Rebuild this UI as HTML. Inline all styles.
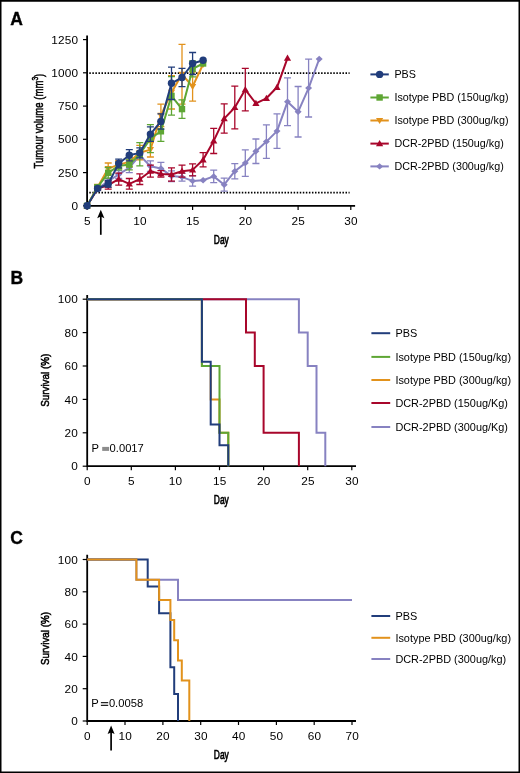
<!DOCTYPE html>
<html><head><meta charset="utf-8"><style>
html,body{margin:0;padding:0;background:#fff;}
body{width:520px;height:773px;overflow:hidden;position:relative;}
svg{position:absolute;left:0;top:0;will-change:transform;}
</style></head><body>
<svg width="520" height="773" viewBox="0 0 520 773"><text x="10.2" y="24.5" font-family="Liberation Sans, sans-serif" font-weight="bold" font-size="17.5" stroke="#000" stroke-width="0.35">A</text><path d="M87.1,35.4V205.8H355.1" stroke="#000" stroke-width="1.8" fill="none"/><path d="M83,205.8H87.1" stroke="#000" stroke-width="1.2"/><text x="78.2" y="209.9" font-family="Liberation Sans, sans-serif" font-size="11.8" letter-spacing="0.2" text-anchor="end">0</text><path d="M83,172.6H87.1" stroke="#000" stroke-width="1.2"/><text x="78.2" y="176.7" font-family="Liberation Sans, sans-serif" font-size="11.8" letter-spacing="0.2" text-anchor="end">250</text><path d="M83,139.3H87.1" stroke="#000" stroke-width="1.2"/><text x="78.2" y="143.4" font-family="Liberation Sans, sans-serif" font-size="11.8" letter-spacing="0.2" text-anchor="end">500</text><path d="M83,106.1H87.1" stroke="#000" stroke-width="1.2"/><text x="78.2" y="110.2" font-family="Liberation Sans, sans-serif" font-size="11.8" letter-spacing="0.2" text-anchor="end">750</text><path d="M83,72.8H87.1" stroke="#000" stroke-width="1.2"/><text x="78.2" y="76.9" font-family="Liberation Sans, sans-serif" font-size="11.8" letter-spacing="0.2" text-anchor="end">1000</text><path d="M83,39.6H87.1" stroke="#000" stroke-width="1.2"/><text x="78.2" y="43.7" font-family="Liberation Sans, sans-serif" font-size="11.8" letter-spacing="0.2" text-anchor="end">1250</text><path d="M87.1,205.8V210" stroke="#000" stroke-width="1.2"/><text x="87.3" y="224.5" font-family="Liberation Sans, sans-serif" font-size="11.8" letter-spacing="0.2" text-anchor="middle">5</text><path d="M139.8,205.8V210" stroke="#000" stroke-width="1.2"/><text x="140.0" y="224.5" font-family="Liberation Sans, sans-serif" font-size="11.8" letter-spacing="0.2" text-anchor="middle">10</text><path d="M192.6,205.8V210" stroke="#000" stroke-width="1.2"/><text x="192.8" y="224.5" font-family="Liberation Sans, sans-serif" font-size="11.8" letter-spacing="0.2" text-anchor="middle">15</text><path d="M245.3,205.8V210" stroke="#000" stroke-width="1.2"/><text x="245.5" y="224.5" font-family="Liberation Sans, sans-serif" font-size="11.8" letter-spacing="0.2" text-anchor="middle">20</text><path d="M298.1,205.8V210" stroke="#000" stroke-width="1.2"/><text x="298.3" y="224.5" font-family="Liberation Sans, sans-serif" font-size="11.8" letter-spacing="0.2" text-anchor="middle">25</text><path d="M350.8,205.8V210" stroke="#000" stroke-width="1.2"/><text x="351.0" y="224.5" font-family="Liberation Sans, sans-serif" font-size="11.8" letter-spacing="0.2" text-anchor="middle">30</text><path d="M89.3,73.1H349.6" stroke="#000" stroke-width="1.7" stroke-dasharray="1.5 1.55"/><path d="M89.3,192.6H349.6" stroke="#000" stroke-width="1.7" stroke-dasharray="1.5 1.55"/><path d="M100.8,234.8V215" stroke="#000" stroke-width="1.7"/><path d="M100.8,209.8L104.4,218.2L100.8,216.6L97.2,218.2Z" fill="#000"/><text transform="translate(42.6,168.5) rotate(-90) scale(0.704,1)" font-family="Liberation Sans, sans-serif" font-size="13.6" stroke="#000" stroke-width="0.55">Tumour volume (mm<tspan font-size="9.5" dy="-4.6">3</tspan><tspan dy="4.6">)</tspan></text><text transform="translate(213.8,244) scale(0.62,1)" font-family="Liberation Sans, sans-serif" font-size="13.6" stroke="#000" stroke-width="0.7">Day</text><g><path d="M97.6,187.2V189.8M94.1,187.2H101.1M94.1,189.8H101.1" stroke="#8782c1" stroke-width="1.3" fill="none"/><path d="M108.2,178.5V183.9M104.7,178.5H111.7M104.7,183.9H111.7" stroke="#8782c1" stroke-width="1.3" fill="none"/><path d="M118.7,170.6V178.5M115.2,170.6H122.2M115.2,178.5H122.2" stroke="#8782c1" stroke-width="1.3" fill="none"/><path d="M129.3,162.6V172.7M125.8,162.6H132.8M125.8,172.7H132.8" stroke="#8782c1" stroke-width="1.3" fill="none"/><path d="M139.8,151.4V159.4M136.3,151.4H143.3M136.3,159.4H143.3" stroke="#8782c1" stroke-width="1.3" fill="none"/><path d="M150.4,160.8V171.5M146.9,160.8H153.9M146.9,171.5H153.9" stroke="#8782c1" stroke-width="1.3" fill="none"/><path d="M160.9,162.4V174.4M157.4,162.4H164.4M157.4,174.4H164.4" stroke="#8782c1" stroke-width="1.3" fill="none"/><path d="M171.5,170.8V181.5M168.0,170.8H175.0M168.0,181.5H175.0" stroke="#8782c1" stroke-width="1.3" fill="none"/><path d="M182.0,173.1V181.1M178.5,173.1H185.5M178.5,181.1H185.5" stroke="#8782c1" stroke-width="1.3" fill="none"/><path d="M192.6,175.7V186.1M189.1,175.7H196.1M189.1,186.1H196.1" stroke="#8782c1" stroke-width="1.3" fill="none"/><path d="M213.7,170.2V182.7M210.2,170.2H217.2M210.2,182.7H217.2" stroke="#8782c1" stroke-width="1.3" fill="none"/><path d="M224.2,178.1V191.2M220.7,178.1H227.7M220.7,191.2H227.7" stroke="#8782c1" stroke-width="1.3" fill="none"/><path d="M234.8,163.6V178.8M231.3,163.6H238.3M231.3,178.8H238.3" stroke="#8782c1" stroke-width="1.3" fill="none"/><path d="M245.3,149.8V176.4M241.8,149.8H248.8M241.8,176.4H248.8" stroke="#8782c1" stroke-width="1.3" fill="none"/><path d="M255.9,139.0V163.5M252.4,139.0H259.4M252.4,163.5H259.4" stroke="#8782c1" stroke-width="1.3" fill="none"/><path d="M266.4,124.8V158.3M262.9,124.8H269.9M262.9,158.3H269.9" stroke="#8782c1" stroke-width="1.3" fill="none"/><path d="M277.0,113.8V148.3M273.5,113.8H280.5M273.5,148.3H280.5" stroke="#8782c1" stroke-width="1.3" fill="none"/><path d="M287.5,77.9V125.7M284.0,77.9H291.0M284.0,125.7H291.0" stroke="#8782c1" stroke-width="1.3" fill="none"/><path d="M298.1,86.5V137.0M294.6,86.5H301.6M294.6,137.0H301.6" stroke="#8782c1" stroke-width="1.3" fill="none"/><path d="M308.6,59.2V117.0M305.1,59.2H312.1M305.1,117.0H312.1" stroke="#8782c1" stroke-width="1.3" fill="none"/><polyline points="87.1,205.8 97.6,188.5 108.2,181.2 118.7,174.5 129.3,167.6 139.8,155.4 150.4,166.2 160.9,168.4 171.5,176.1 182.0,177.1 192.6,180.9 203.1,180.3 213.7,176.4 224.2,184.7 234.8,171.2 245.3,163.1 255.9,151.3 266.4,141.6 277.0,131.1 287.5,101.8 298.1,111.8 308.6,88.1 319.2,59.0" stroke="#8782c1" stroke-width="2" fill="none" stroke-linejoin="round"/><path d="M87.1,202.6L90.6,205.8L87.1,209.0L83.6,205.8Z" fill="#8782c1"/><path d="M97.6,185.3L101.1,188.5L97.6,191.7L94.1,188.5Z" fill="#8782c1"/><path d="M108.2,178.0L111.7,181.2L108.2,184.4L104.7,181.2Z" fill="#8782c1"/><path d="M118.7,171.3L122.2,174.5L118.7,177.7L115.2,174.5Z" fill="#8782c1"/><path d="M129.3,164.4L132.8,167.6L129.3,170.8L125.8,167.6Z" fill="#8782c1"/><path d="M139.8,152.2L143.3,155.4L139.8,158.6L136.3,155.4Z" fill="#8782c1"/><path d="M150.4,163.0L153.9,166.2L150.4,169.4L146.9,166.2Z" fill="#8782c1"/><path d="M160.9,165.2L164.4,168.4L160.9,171.6L157.4,168.4Z" fill="#8782c1"/><path d="M171.5,172.9L175.0,176.1L171.5,179.3L168.0,176.1Z" fill="#8782c1"/><path d="M182.0,173.9L185.5,177.1L182.0,180.3L178.5,177.1Z" fill="#8782c1"/><path d="M192.6,177.7L196.1,180.9L192.6,184.1L189.1,180.9Z" fill="#8782c1"/><path d="M203.1,177.1L206.6,180.3L203.1,183.5L199.6,180.3Z" fill="#8782c1"/><path d="M213.7,173.2L217.2,176.4L213.7,179.6L210.2,176.4Z" fill="#8782c1"/><path d="M224.2,181.5L227.7,184.7L224.2,187.9L220.7,184.7Z" fill="#8782c1"/><path d="M234.8,168.0L238.3,171.2L234.8,174.4L231.3,171.2Z" fill="#8782c1"/><path d="M245.3,159.9L248.8,163.1L245.3,166.3L241.8,163.1Z" fill="#8782c1"/><path d="M255.9,148.1L259.4,151.3L255.9,154.5L252.4,151.3Z" fill="#8782c1"/><path d="M266.4,138.4L269.9,141.6L266.4,144.8L262.9,141.6Z" fill="#8782c1"/><path d="M277.0,127.9L280.5,131.1L277.0,134.3L273.5,131.1Z" fill="#8782c1"/><path d="M287.5,98.6L291.0,101.8L287.5,105.0L284.0,101.8Z" fill="#8782c1"/><path d="M298.1,108.6L301.6,111.8L298.1,115.0L294.6,111.8Z" fill="#8782c1"/><path d="M308.6,84.9L312.1,88.1L308.6,91.3L305.1,88.1Z" fill="#8782c1"/><path d="M319.2,55.8L322.7,59.0L319.2,62.2L315.7,59.0Z" fill="#8782c1"/><path d="M97.6,187.2V189.8M94.1,187.2H101.1M94.1,189.8H101.1" stroke="#a8062b" stroke-width="1.3" fill="none"/><path d="M108.2,181.2V189.2M104.7,181.2H111.7M104.7,189.2H111.7" stroke="#a8062b" stroke-width="1.3" fill="none"/><path d="M118.7,173.2V185.2M115.2,173.2H122.2M115.2,185.2H122.2" stroke="#a8062b" stroke-width="1.3" fill="none"/><path d="M129.3,178.5V189.2M125.8,178.5H132.8M125.8,189.2H132.8" stroke="#a8062b" stroke-width="1.3" fill="none"/><path d="M139.8,173.9V184.5M136.3,173.9H143.3M136.3,184.5H143.3" stroke="#a8062b" stroke-width="1.3" fill="none"/><path d="M150.4,165.2V177.2M146.9,165.2H153.9M146.9,177.2H153.9" stroke="#a8062b" stroke-width="1.3" fill="none"/><path d="M160.9,170.6V177.2M157.4,170.6H164.4M157.4,177.2H164.4" stroke="#a8062b" stroke-width="1.3" fill="none"/><path d="M171.5,167.9V181.2M168.0,167.9H175.0M168.0,181.2H175.0" stroke="#a8062b" stroke-width="1.3" fill="none"/><path d="M182.0,165.2V177.2M178.5,165.2H185.5M178.5,177.2H185.5" stroke="#a8062b" stroke-width="1.3" fill="none"/><path d="M192.6,163.9V175.9M189.1,163.9H196.1M189.1,175.9H196.1" stroke="#a8062b" stroke-width="1.3" fill="none"/><path d="M203.1,152.7V166.8M199.6,152.7H206.6M199.6,166.8H206.6" stroke="#a8062b" stroke-width="1.3" fill="none"/><path d="M213.7,128.3V153.5M210.2,128.3H217.2M210.2,153.5H217.2" stroke="#a8062b" stroke-width="1.3" fill="none"/><path d="M224.2,103.9V133.2M220.7,103.9H227.7M220.7,133.2H227.7" stroke="#a8062b" stroke-width="1.3" fill="none"/><path d="M234.8,86.2V128.8M231.3,86.2H238.3M231.3,128.8H238.3" stroke="#a8062b" stroke-width="1.3" fill="none"/><path d="M245.3,68.3V110.8M241.8,68.3H248.8M241.8,110.8H248.8" stroke="#a8062b" stroke-width="1.3" fill="none"/><polyline points="87.1,205.8 97.6,188.5 108.2,185.2 118.7,179.2 129.3,183.9 139.8,179.2 150.4,171.2 160.9,173.9 171.5,174.5 182.0,171.2 192.6,169.9 203.1,159.8 213.7,140.9 224.2,118.6 234.8,107.5 245.3,89.6 255.9,103.4 266.4,98.3 277.0,87.3 287.5,58.2" stroke="#a8062b" stroke-width="2" fill="none" stroke-linejoin="round"/><path d="M83.5,208.4L90.7,208.4L87.1,202.2Z" fill="#a8062b"/><path d="M94.0,191.1L101.2,191.1L97.6,184.9Z" fill="#a8062b"/><path d="M104.6,187.8L111.8,187.8L108.2,181.6Z" fill="#a8062b"/><path d="M115.1,181.8L122.3,181.8L118.7,175.6Z" fill="#a8062b"/><path d="M125.7,186.5L132.9,186.5L129.3,180.3Z" fill="#a8062b"/><path d="M136.2,181.8L143.4,181.8L139.8,175.6Z" fill="#a8062b"/><path d="M146.8,173.8L154.0,173.8L150.4,167.6Z" fill="#a8062b"/><path d="M157.3,176.5L164.5,176.5L160.9,170.3Z" fill="#a8062b"/><path d="M167.9,177.1L175.1,177.1L171.5,170.9Z" fill="#a8062b"/><path d="M178.4,173.8L185.6,173.8L182.0,167.6Z" fill="#a8062b"/><path d="M189.0,172.5L196.2,172.5L192.6,166.3Z" fill="#a8062b"/><path d="M199.5,162.4L206.7,162.4L203.1,156.2Z" fill="#a8062b"/><path d="M210.1,143.5L217.3,143.5L213.7,137.3Z" fill="#a8062b"/><path d="M220.6,121.2L227.8,121.2L224.2,115.0Z" fill="#a8062b"/><path d="M231.2,110.1L238.4,110.1L234.8,103.9Z" fill="#a8062b"/><path d="M241.7,92.2L248.9,92.2L245.3,86.0Z" fill="#a8062b"/><path d="M252.3,106.0L259.5,106.0L255.9,99.8Z" fill="#a8062b"/><path d="M262.8,100.9L270.0,100.9L266.4,94.7Z" fill="#a8062b"/><path d="M273.4,89.9L280.6,89.9L277.0,83.7Z" fill="#a8062b"/><path d="M283.9,60.8L291.1,60.8L287.5,54.6Z" fill="#a8062b"/><path d="M97.6,184.5V189.8M94.1,184.5H101.1M94.1,189.8H101.1" stroke="#e2921c" stroke-width="1.3" fill="none"/><path d="M108.2,163.0V174.1M104.7,163.0H111.7M104.7,174.1H111.7" stroke="#e2921c" stroke-width="1.3" fill="none"/><path d="M118.7,160.6V168.6M115.2,160.6H122.2M115.2,168.6H122.2" stroke="#e2921c" stroke-width="1.3" fill="none"/><path d="M129.3,157.3V166.6M125.8,157.3H132.8M125.8,166.6H132.8" stroke="#e2921c" stroke-width="1.3" fill="none"/><path d="M139.8,145.3V159.9M136.3,145.3H143.3M136.3,159.9H143.3" stroke="#e2921c" stroke-width="1.3" fill="none"/><path d="M150.4,142.4V157.0M146.9,142.4H153.9M146.9,157.0H153.9" stroke="#e2921c" stroke-width="1.3" fill="none"/><path d="M160.9,104.1V126.7M157.4,104.1H164.4M157.4,126.7H164.4" stroke="#e2921c" stroke-width="1.3" fill="none"/><path d="M171.5,75.7V109.0M168.0,75.7H175.0M168.0,109.0H175.0" stroke="#e2921c" stroke-width="1.3" fill="none"/><path d="M182.0,44.3V104.2M178.5,44.3H185.5M178.5,104.2H185.5" stroke="#e2921c" stroke-width="1.3" fill="none"/><path d="M192.6,71.9V101.1M189.1,71.9H196.1M189.1,101.1H196.1" stroke="#e2921c" stroke-width="1.3" fill="none"/><polyline points="87.1,205.8 97.6,187.2 108.2,168.6 118.7,164.6 129.3,161.9 139.8,152.6 150.4,149.7 160.9,115.4 171.5,92.4 182.0,74.3 192.6,86.5 203.1,64.3" stroke="#e2921c" stroke-width="2" fill="none" stroke-linejoin="round"/><path d="M83.5,203.2L90.7,203.2L87.1,209.4Z" fill="#e2921c"/><path d="M94.0,184.6L101.2,184.6L97.6,190.8Z" fill="#e2921c"/><path d="M104.6,166.0L111.8,166.0L108.2,172.2Z" fill="#e2921c"/><path d="M115.1,162.0L122.3,162.0L118.7,168.2Z" fill="#e2921c"/><path d="M125.7,159.3L132.9,159.3L129.3,165.5Z" fill="#e2921c"/><path d="M136.2,150.0L143.4,150.0L139.8,156.2Z" fill="#e2921c"/><path d="M146.8,147.1L154.0,147.1L150.4,153.3Z" fill="#e2921c"/><path d="M157.3,112.8L164.5,112.8L160.9,119.0Z" fill="#e2921c"/><path d="M167.9,89.8L175.1,89.8L171.5,96.0Z" fill="#e2921c"/><path d="M178.4,71.7L185.6,71.7L182.0,77.9Z" fill="#e2921c"/><path d="M189.0,83.9L196.2,83.9L192.6,90.1Z" fill="#e2921c"/><path d="M199.5,61.7L206.7,61.7L203.1,67.9Z" fill="#e2921c"/><path d="M97.6,185.3V189.0M94.1,185.3H101.1M94.1,189.0H101.1" stroke="#5ea634" stroke-width="1.3" fill="none"/><path d="M108.2,167.5V178.1M104.7,167.5H111.7M104.7,178.1H111.7" stroke="#5ea634" stroke-width="1.3" fill="none"/><path d="M118.7,161.9V169.9M115.2,161.9H122.2M115.2,169.9H122.2" stroke="#5ea634" stroke-width="1.3" fill="none"/><path d="M129.3,159.2V169.9M125.8,159.2H132.8M125.8,169.9H132.8" stroke="#5ea634" stroke-width="1.3" fill="none"/><path d="M139.8,142.6V165.8M136.3,142.6H143.3M136.3,165.8H143.3" stroke="#5ea634" stroke-width="1.3" fill="none"/><path d="M150.4,124.7V152.6M146.9,124.7H153.9M146.9,152.6H153.9" stroke="#5ea634" stroke-width="1.3" fill="none"/><path d="M160.9,121.3V141.3M157.4,121.3H164.4M157.4,141.3H164.4" stroke="#5ea634" stroke-width="1.3" fill="none"/><path d="M171.5,76.7V115.2M168.0,76.7H175.0M168.0,115.2H175.0" stroke="#5ea634" stroke-width="1.3" fill="none"/><path d="M182.0,99.8V118.4M178.5,99.8H185.5M178.5,118.4H185.5" stroke="#5ea634" stroke-width="1.3" fill="none"/><path d="M192.6,61.0V76.9M189.1,61.0H196.1M189.1,76.9H196.1" stroke="#5ea634" stroke-width="1.3" fill="none"/><polyline points="87.1,205.8 97.6,187.2 108.2,172.8 118.7,165.9 129.3,164.6 139.8,154.2 150.4,138.6 160.9,131.3 171.5,95.9 182.0,109.1 192.6,68.9 203.1,63.5" stroke="#5ea634" stroke-width="2" fill="none" stroke-linejoin="round"/><rect x="83.9" y="202.6" width="6.4" height="6.4" fill="#5ea634"/><rect x="94.4" y="184.0" width="6.4" height="6.4" fill="#5ea634"/><rect x="105.0" y="169.6" width="6.4" height="6.4" fill="#5ea634"/><rect x="115.5" y="162.7" width="6.4" height="6.4" fill="#5ea634"/><rect x="126.1" y="161.4" width="6.4" height="6.4" fill="#5ea634"/><rect x="136.6" y="151.0" width="6.4" height="6.4" fill="#5ea634"/><rect x="147.2" y="135.4" width="6.4" height="6.4" fill="#5ea634"/><rect x="157.7" y="128.1" width="6.4" height="6.4" fill="#5ea634"/><rect x="168.3" y="92.7" width="6.4" height="6.4" fill="#5ea634"/><rect x="178.8" y="105.9" width="6.4" height="6.4" fill="#5ea634"/><rect x="189.4" y="65.7" width="6.4" height="6.4" fill="#5ea634"/><rect x="199.9" y="60.3" width="6.4" height="6.4" fill="#5ea634"/><path d="M97.6,186.9V190.1M94.1,186.9H101.1M94.1,190.1H101.1" stroke="#213d7b" stroke-width="1.3" fill="none"/><path d="M108.2,180.5V187.2M104.7,180.5H111.7M104.7,187.2H111.7" stroke="#213d7b" stroke-width="1.3" fill="none"/><path d="M118.7,159.2V167.8M115.2,159.2H122.2M115.2,167.8H122.2" stroke="#213d7b" stroke-width="1.3" fill="none"/><path d="M129.3,149.7V160.8M125.8,149.7H132.8M125.8,160.8H132.8" stroke="#213d7b" stroke-width="1.3" fill="none"/><path d="M139.8,147.8V157.9M136.3,147.8H143.3M136.3,157.9H143.3" stroke="#213d7b" stroke-width="1.3" fill="none"/><path d="M150.4,126.8V141.4M146.9,126.8H153.9M146.9,141.4H153.9" stroke="#213d7b" stroke-width="1.3" fill="none"/><path d="M160.9,113.9V129.1M157.4,113.9H164.4M157.4,129.1H164.4" stroke="#213d7b" stroke-width="1.3" fill="none"/><path d="M171.5,67.1V99.5M168.0,67.1H175.0M168.0,99.5H175.0" stroke="#213d7b" stroke-width="1.3" fill="none"/><path d="M182.0,68.3V86.6M178.5,68.3H185.5M178.5,86.6H185.5" stroke="#213d7b" stroke-width="1.3" fill="none"/><path d="M192.6,52.5V74.5M189.1,52.5H196.1M189.1,74.5H196.1" stroke="#213d7b" stroke-width="1.3" fill="none"/><polyline points="87.1,205.8 97.6,188.5 108.2,183.9 118.7,163.5 129.3,155.3 139.8,152.9 150.4,134.1 160.9,121.5 171.5,83.3 182.0,77.5 192.6,63.5 203.1,60.3" stroke="#213d7b" stroke-width="2" fill="none" stroke-linejoin="round"/><circle cx="87.1" cy="205.8" r="3.7" fill="#213d7b"/><circle cx="97.6" cy="188.5" r="3.7" fill="#213d7b"/><circle cx="108.2" cy="183.9" r="3.7" fill="#213d7b"/><circle cx="118.7" cy="163.5" r="3.7" fill="#213d7b"/><circle cx="129.3" cy="155.3" r="3.7" fill="#213d7b"/><circle cx="139.8" cy="152.9" r="3.7" fill="#213d7b"/><circle cx="150.4" cy="134.1" r="3.7" fill="#213d7b"/><circle cx="160.9" cy="121.5" r="3.7" fill="#213d7b"/><circle cx="171.5" cy="83.3" r="3.7" fill="#213d7b"/><circle cx="182.0" cy="77.5" r="3.7" fill="#213d7b"/><circle cx="192.6" cy="63.5" r="3.7" fill="#213d7b"/><circle cx="203.1" cy="60.3" r="3.7" fill="#213d7b"/></g><path d="M370.4,74.4H388.8" stroke="#213d7b" stroke-width="2"/><circle cx="379.6" cy="74.4" r="3.7" fill="#213d7b"/><text x="394.4" y="78.2" font-family="Liberation Sans, sans-serif" font-size="10.75">PBS</text><path d="M370.4,97.5H388.8" stroke="#5ea634" stroke-width="2"/><rect x="376.4" y="94.3" width="6.4" height="6.4" fill="#5ea634"/><text x="394.4" y="101.3" font-family="Liberation Sans, sans-serif" font-size="10.75">Isotype PBD (150ug/kg)</text><path d="M370.4,120.5H388.8" stroke="#e2921c" stroke-width="2"/><path d="M376.0,117.9L383.2,117.9L379.6,124.1Z" fill="#e2921c"/><text x="394.4" y="124.3" font-family="Liberation Sans, sans-serif" font-size="10.75">Isotype PBD (300ug/kg)</text><path d="M370.4,143.6H388.8" stroke="#a8062b" stroke-width="2"/><path d="M376.0,146.2L383.2,146.2L379.6,140.0Z" fill="#a8062b"/><text x="394.4" y="147.4" font-family="Liberation Sans, sans-serif" font-size="10.75">DCR-2PBD (150ug/kg)</text><path d="M370.4,166.4H388.8" stroke="#8782c1" stroke-width="2"/><path d="M379.6,163.2L383.1,166.4L379.6,169.6L376.1,166.4Z" fill="#8782c1"/><text x="394.4" y="170.2" font-family="Liberation Sans, sans-serif" font-size="10.75">DCR-2PBD (300ug/kg)</text><text x="10.4" y="283.8" font-family="Liberation Sans, sans-serif" font-weight="bold" font-size="17.5" stroke="#000" stroke-width="0.35">B</text><path d="M87.2,295V466.2H356" stroke="#000" stroke-width="1.8" fill="none"/><path d="M82.7,466.2H87.2" stroke="#000" stroke-width="1.2"/><text x="78.1" y="470.3" font-family="Liberation Sans, sans-serif" font-size="11.8" letter-spacing="0.2" text-anchor="end">0</text><path d="M82.7,432.8H87.2" stroke="#000" stroke-width="1.2"/><text x="78.1" y="436.9" font-family="Liberation Sans, sans-serif" font-size="11.8" letter-spacing="0.2" text-anchor="end">20</text><path d="M82.7,399.4H87.2" stroke="#000" stroke-width="1.2"/><text x="78.1" y="403.5" font-family="Liberation Sans, sans-serif" font-size="11.8" letter-spacing="0.2" text-anchor="end">40</text><path d="M82.7,366.0H87.2" stroke="#000" stroke-width="1.2"/><text x="78.1" y="370.1" font-family="Liberation Sans, sans-serif" font-size="11.8" letter-spacing="0.2" text-anchor="end">60</text><path d="M82.7,332.6H87.2" stroke="#000" stroke-width="1.2"/><text x="78.1" y="336.7" font-family="Liberation Sans, sans-serif" font-size="11.8" letter-spacing="0.2" text-anchor="end">80</text><path d="M82.7,299.2H87.2" stroke="#000" stroke-width="1.2"/><text x="78.1" y="303.3" font-family="Liberation Sans, sans-serif" font-size="11.8" letter-spacing="0.2" text-anchor="end">100</text><path d="M87.2,466.2V470.2" stroke="#000" stroke-width="1.2"/><text x="87.4" y="485.3" font-family="Liberation Sans, sans-serif" font-size="11.8" letter-spacing="0.2" text-anchor="middle">0</text><path d="M131.3,466.2V470.2" stroke="#000" stroke-width="1.2"/><text x="131.5" y="485.3" font-family="Liberation Sans, sans-serif" font-size="11.8" letter-spacing="0.2" text-anchor="middle">5</text><path d="M175.4,466.2V470.2" stroke="#000" stroke-width="1.2"/><text x="175.6" y="485.3" font-family="Liberation Sans, sans-serif" font-size="11.8" letter-spacing="0.2" text-anchor="middle">10</text><path d="M219.5,466.2V470.2" stroke="#000" stroke-width="1.2"/><text x="219.7" y="485.3" font-family="Liberation Sans, sans-serif" font-size="11.8" letter-spacing="0.2" text-anchor="middle">15</text><path d="M263.6,466.2V470.2" stroke="#000" stroke-width="1.2"/><text x="263.8" y="485.3" font-family="Liberation Sans, sans-serif" font-size="11.8" letter-spacing="0.2" text-anchor="middle">20</text><path d="M307.7,466.2V470.2" stroke="#000" stroke-width="1.2"/><text x="307.9" y="485.3" font-family="Liberation Sans, sans-serif" font-size="11.8" letter-spacing="0.2" text-anchor="middle">25</text><path d="M351.8,466.2V470.2" stroke="#000" stroke-width="1.2"/><text x="352.0" y="485.3" font-family="Liberation Sans, sans-serif" font-size="11.8" letter-spacing="0.2" text-anchor="middle">30</text><path d="M87.2,299.2H298.9V332.6H307.7V366.0H316.5V432.8H325.3V466.2" stroke="#8782c1" stroke-width="2" fill="none"/><path d="M87.2,299.2H246.0V332.6H254.8V366.0H263.6V432.8H298.9V466.2" stroke="#a8062b" stroke-width="2" fill="none"/><path d="M87.2,299.2H201.9V366.0H210.7V399.4H219.5V432.8H228.3V466.2" stroke="#e2921c" stroke-width="2" fill="none"/><path d="M87.2,299.2H201.9V366.0H219.5V432.8H228.3V466.2" stroke="#5ea634" stroke-width="2" fill="none"/><path d="M87.2,299.2H201.9V361.8H210.7V424.4H219.5V445.3H228.3V466.2" stroke="#213d7b" stroke-width="2" fill="none"/><text x="91.6" y="452.2" font-family="Liberation Sans, sans-serif" font-size="11.2">P</text><rect x="102.2" y="446.9" width="6.9" height="4" fill="#8c8c8c"/><text x="109.6" y="452.2" font-family="Liberation Sans, sans-serif" font-size="11.2">0.0017</text><text transform="translate(49.4,406.8) rotate(-90) scale(0.834,1)" font-family="Liberation Sans, sans-serif" font-size="11.8" stroke="#000" stroke-width="0.55">Survival (%)</text><text transform="translate(213.8,503.5) scale(0.62,1)" font-family="Liberation Sans, sans-serif" font-size="13.6" stroke="#000" stroke-width="0.7">Day</text><path d="M371.4,333.2H390.2" stroke="#213d7b" stroke-width="2"/><text x="395.4" y="337.0" font-family="Liberation Sans, sans-serif" font-size="10.9">PBS</text><path d="M371.4,356.9H390.2" stroke="#5ea634" stroke-width="2"/><text x="395.4" y="360.7" font-family="Liberation Sans, sans-serif" font-size="10.9">Isotype PBD (150ug/kg)</text><path d="M371.4,380H390.2" stroke="#e2921c" stroke-width="2"/><text x="395.4" y="383.8" font-family="Liberation Sans, sans-serif" font-size="10.9">Isotype PBD (300ug/kg)</text><path d="M371.4,403H390.2" stroke="#a8062b" stroke-width="2"/><text x="395.4" y="406.8" font-family="Liberation Sans, sans-serif" font-size="10.9">DCR-2PBD (150ug/Kg)</text><path d="M371.4,427H390.2" stroke="#8782c1" stroke-width="2"/><text x="395.4" y="430.8" font-family="Liberation Sans, sans-serif" font-size="10.9">DCR-2PBD (300ug/Kg)</text><text x="10.2" y="544" font-family="Liberation Sans, sans-serif" font-weight="bold" font-size="17.5" stroke="#000" stroke-width="0.35">C</text><path d="M87.2,554.8V721H356" stroke="#000" stroke-width="1.8" fill="none"/><path d="M82.7,721.0H87.2" stroke="#000" stroke-width="1.2"/><text x="78.1" y="725.1" font-family="Liberation Sans, sans-serif" font-size="11.8" letter-spacing="0.2" text-anchor="end">0</text><path d="M82.7,688.7H87.2" stroke="#000" stroke-width="1.2"/><text x="78.1" y="692.8" font-family="Liberation Sans, sans-serif" font-size="11.8" letter-spacing="0.2" text-anchor="end">20</text><path d="M82.7,656.4H87.2" stroke="#000" stroke-width="1.2"/><text x="78.1" y="660.5" font-family="Liberation Sans, sans-serif" font-size="11.8" letter-spacing="0.2" text-anchor="end">40</text><path d="M82.7,624.1H87.2" stroke="#000" stroke-width="1.2"/><text x="78.1" y="628.2" font-family="Liberation Sans, sans-serif" font-size="11.8" letter-spacing="0.2" text-anchor="end">60</text><path d="M82.7,591.8H87.2" stroke="#000" stroke-width="1.2"/><text x="78.1" y="595.9" font-family="Liberation Sans, sans-serif" font-size="11.8" letter-spacing="0.2" text-anchor="end">80</text><path d="M82.7,559.5H87.2" stroke="#000" stroke-width="1.2"/><text x="78.1" y="563.6" font-family="Liberation Sans, sans-serif" font-size="11.8" letter-spacing="0.2" text-anchor="end">100</text><path d="M87.2,721V725" stroke="#000" stroke-width="1.2"/><text x="87.4" y="740" font-family="Liberation Sans, sans-serif" font-size="11.8" letter-spacing="0.2" text-anchor="middle">0</text><path d="M125.0,721V725" stroke="#000" stroke-width="1.2"/><text x="125.2" y="740" font-family="Liberation Sans, sans-serif" font-size="11.8" letter-spacing="0.2" text-anchor="middle">10</text><path d="M162.9,721V725" stroke="#000" stroke-width="1.2"/><text x="163.1" y="740" font-family="Liberation Sans, sans-serif" font-size="11.8" letter-spacing="0.2" text-anchor="middle">20</text><path d="M200.7,721V725" stroke="#000" stroke-width="1.2"/><text x="200.9" y="740" font-family="Liberation Sans, sans-serif" font-size="11.8" letter-spacing="0.2" text-anchor="middle">30</text><path d="M238.5,721V725" stroke="#000" stroke-width="1.2"/><text x="238.7" y="740" font-family="Liberation Sans, sans-serif" font-size="11.8" letter-spacing="0.2" text-anchor="middle">40</text><path d="M276.4,721V725" stroke="#000" stroke-width="1.2"/><text x="276.6" y="740" font-family="Liberation Sans, sans-serif" font-size="11.8" letter-spacing="0.2" text-anchor="middle">50</text><path d="M314.2,721V725" stroke="#000" stroke-width="1.2"/><text x="314.4" y="740" font-family="Liberation Sans, sans-serif" font-size="11.8" letter-spacing="0.2" text-anchor="middle">60</text><path d="M352.0,721V725" stroke="#000" stroke-width="1.2"/><text x="352.2" y="740" font-family="Liberation Sans, sans-serif" font-size="11.8" letter-spacing="0.2" text-anchor="middle">70</text><path d="M87.2,559.5H136.4V579.7H178.0V599.9H352.0" stroke="#8782c1" stroke-width="2" fill="none"/><path d="M87.2,559.5H147.7V586.5H159.1V613.3H170.4V667.2H174.2V694.0H178.0V721.0" stroke="#213d7b" stroke-width="2" fill="none"/><path d="M87.2,559.5H136.4V579.7H159.1V599.9H170.4V620.1H174.2V640.2H178.0V660.4H181.8V680.6H189.3V721.0" stroke="#e2921c" stroke-width="2" fill="none"/><text x="91.2" y="707.4" font-family="Liberation Sans, sans-serif" font-size="11.2">P</text><path d="M100.9,702.6H108.2M100.9,705.4H108.2" stroke="#222" stroke-width="1.2"/><text x="108.9" y="707.4" font-family="Liberation Sans, sans-serif" font-size="11.2">0.0058</text><path d="M111.1,750.6V731" stroke="#000" stroke-width="1.7"/><path d="M111.1,725.6L114.6,734L111.1,732.4L107.6,734Z" fill="#000"/><text transform="translate(49.4,665) rotate(-90) scale(0.834,1)" font-family="Liberation Sans, sans-serif" font-size="11.8" stroke="#000" stroke-width="0.55">Survival (%)</text><text transform="translate(213.8,758.8) scale(0.62,1)" font-family="Liberation Sans, sans-serif" font-size="13.6" stroke="#000" stroke-width="0.7">Day</text><path d="M371.4,616H390.2" stroke="#213d7b" stroke-width="2"/><text x="395.4" y="619.8" font-family="Liberation Sans, sans-serif" font-size="10.9">PBS</text><path d="M371.4,637.8H390.2" stroke="#e2921c" stroke-width="2"/><text x="395.4" y="641.6" font-family="Liberation Sans, sans-serif" font-size="10.9">Isotype PBD (300ug/kg)</text><path d="M371.4,659H390.2" stroke="#8782c1" stroke-width="2"/><text x="395.4" y="662.8" font-family="Liberation Sans, sans-serif" font-size="10.9">DCR-2PBD (300ug/kg)</text><path d="M0,0H520V1.7H0ZM0,771.5H520V773H0ZM0,0H1.5V773H0ZM518.5,0H520V773H518.5Z" fill="#000"/></svg>
</body></html>
